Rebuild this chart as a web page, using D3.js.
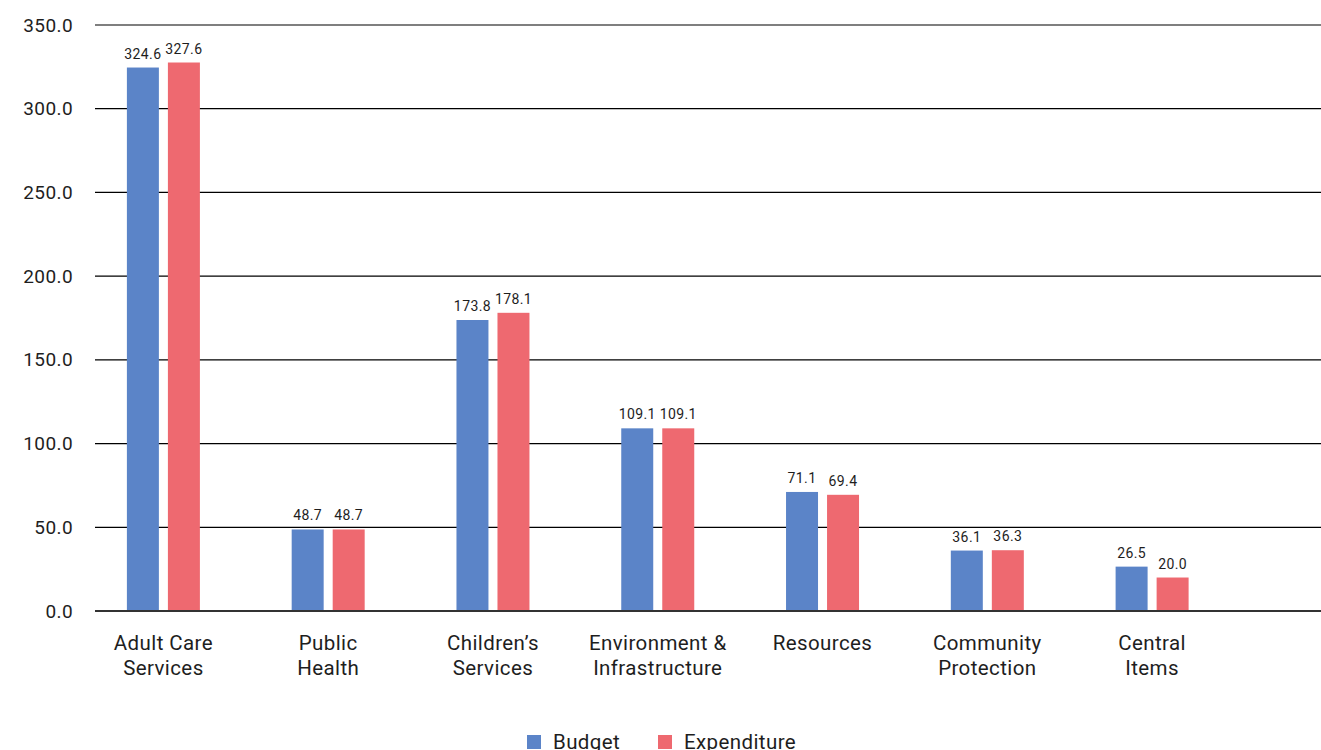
<!DOCTYPE html>
<html>
<head>
<meta charset="utf-8">
<script src="https://cdn.jsdelivr.net/npm/d3@7/dist/d3.min.js"></script>
<style>
  body { margin: 0; background: #fff; }
  text { font-family: Roboto, "DejaVu Sans", sans-serif; fill: #1e1e1e; letter-spacing: 0.4px; }
</style>
</head>
<body>
<script>
// chart data
var categories = [
    ["Adult Care", "Services"],
    ["Public", "Health"],
    ["Children\u2019s", "Services"],
    ["Environment &", "Infrastructure"],
    ["Resources"],
    ["Community", "Protection"],
    ["Central", "Items"]
];
var seriesNames = ["Budget", "Expenditure"];
var budget = [324.6, 48.7, 173.8, 109.1, 71.1, 36.1, 26.5];
var expenditure = [327.6, 48.7, 178.1, 109.1, 69.4, 36.3, 20.0];
var yTicks = [0, 50, 100, 150, 200, 250, 300, 350];
var colors = ["#5b84c8", "#ee6970"];

var width = 1321, height = 750;

var svg = d3.select("body").append("svg")
    .attr("width", width)
    .attr("height", height);

var keys = categories.map(function (c) { return c.join(" "); });

var x = d3.scaleBand()
    .domain(keys)
    .range([81, 1234.5]);

var inner = d3.scaleBand()
    .domain(seriesNames)
    .range([x.bandwidth() / 2 - 36.5, x.bandwidth() / 2 + 36.5])
    .paddingInner(0.22);

var y = d3.scaleLinear()
    .domain([0, 350])
    .range([611, 25]);

// gridlines
svg.append("g")
    .selectAll("line")
    .data(yTicks.filter(function (t) { return t > 0; }))
    .join("line")
    .attr("x1", 95).attr("x2", width)
    .attr("y1", function (d) { return y(d); })
    .attr("y2", function (d) { return y(d); })
    .attr("stroke", "#000")
    .attr("stroke-width", 1.2);

// y axis labels
var yAxis = d3.axisLeft(y)
    .tickValues(yTicks)
    .tickSize(0)
    .tickPadding(0)
    .tickFormat(d3.format(".1f"));

svg.append("g")
    .attr("transform", "translate(73,0)")
    .call(yAxis)
    .call(function (g) { g.select(".domain").remove(); })
    .selectAll("text")
    .attr("font-size", 19)
    .attr("font-family", null);

// bars
var rows = keys.map(function (k, i) {
    return { key: k, values: [budget[i], expenditure[i]] };
});

var groups = svg.append("g")
    .selectAll("g")
    .data(rows)
    .join("g")
    .attr("transform", function (d) { return "translate(" + x(d.key) + ",0)"; });

groups.selectAll("rect")
    .data(function (d) { return d.values.map(function (v, j) { return { name: seriesNames[j], value: v, idx: j }; }); })
    .join("rect")
    .attr("x", function (d) { return inner(d.name); })
    .attr("width", inner.bandwidth())
    .attr("y", function (d) { return y(d.value); })
    .attr("height", function (d) { return y(0) - y(d.value); })
    .attr("fill", function (d) { return colors[d.idx]; });

groups.selectAll("text.val")
    .data(function (d) { return d.values.map(function (v, j) { return { name: seriesNames[j], value: v }; }); })
    .join("text")
    .attr("class", "val")
    .attr("x", function (d) { return inner(d.name) + inner.bandwidth() / 2; })
    .attr("y", function (d) { return y(d.value) - 9; })
    .attr("text-anchor", "middle")
    .attr("font-size", 14)
    .text(function (d) { return d3.format(".1f")(d.value); });

// baseline
svg.append("line")
    .attr("x1", 95).attr("x2", width)
    .attr("y1", y(0)).attr("y2", y(0))
    .attr("stroke", "#333")
    .attr("stroke-width", 2);

// category labels
var catLabels = svg.append("g")
    .selectAll("text")
    .data(categories)
    .join("text")
    .attr("text-anchor", "middle")
    .attr("font-size", 20.5)
    .attr("transform", function (d, i) { return "translate(" + (x(keys[i]) + x.bandwidth() / 2) + ",650)"; });

catLabels.selectAll("tspan")
    .data(function (d) { return d; })
    .join("tspan")
    .attr("x", 0)
    .attr("y", function (d, i) { return i * 25; })
    .text(function (d) { return d; });

// legend (cut by the bottom edge, as in the source)
var legendX = [527, 658];
var legend = svg.append("g")
    .selectAll("g")
    .data(seriesNames)
    .join("g")
    .attr("transform", function (d, i) { return "translate(" + legendX[i] + ",735)"; });

legend.append("rect")
    .attr("width", 14).attr("height", 14)
    .attr("fill", function (d, i) { return colors[i]; });

legend.append("text")
    .attr("x", 26).attr("y", 14)
    .attr("font-size", 20.5)
    .text(function (d) { return d; });
</script>
</body>
</html>
